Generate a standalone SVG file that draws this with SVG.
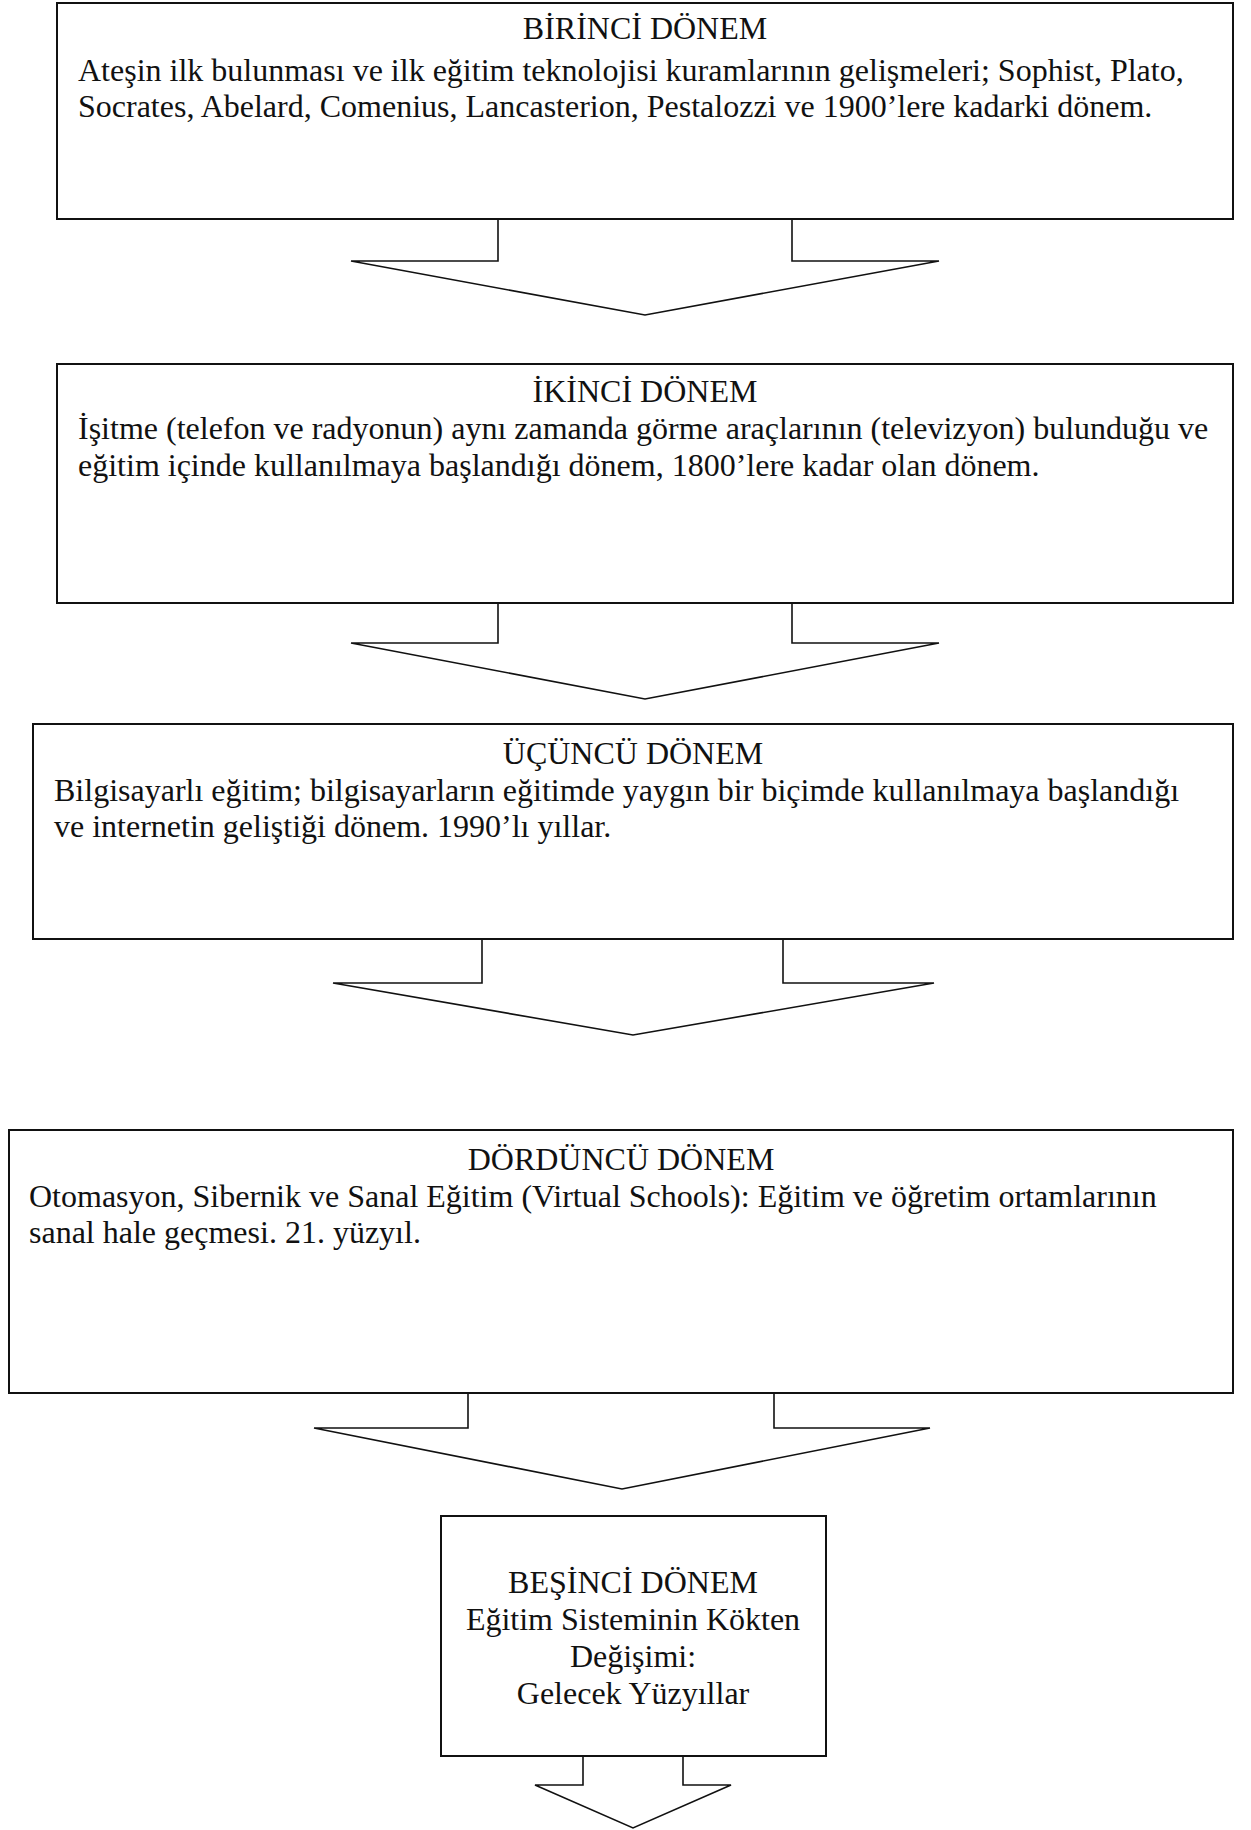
<svg xmlns="http://www.w3.org/2000/svg" width="1251" height="1830" viewBox="0 0 1251 1830">
  <style>
    .box { fill: #ffffff; stroke: #111111; stroke-width: 2; }
    .arrow { fill: #ffffff; stroke: #111111; stroke-width: 1.6; stroke-linejoin: miter; }
    text { font-family: "Liberation Serif", "Times New Roman", serif; font-size: 32px; fill: #111111; }
    .title { text-anchor: middle; }
    .center { text-anchor: middle; }
  </style>
  <rect width="1251" height="1830" fill="#ffffff"/>

  <!-- block arrows between the periods -->
  <g id="connectors">
    <polygon class="arrow" points="498,219 792,219 792,261 939,261 645,315 351,261 498,261"/>
    <polygon class="arrow" points="498,603 792,603 792,643 939,643 645,699 351,643 498,643"/>
    <polygon class="arrow" points="482,939 783,939 783,983 934,983 633,1035 333,983 482,983"/>
    <polygon class="arrow" points="468,1393 774,1393 774,1428 930,1428 622,1489 314,1428 468,1428"/>
    <polygon class="arrow" points="583,1756 683,1756 683,1785 731,1785 633,1828 535,1785 583,1785"/>
  </g>

  <g id="period1">
    <rect class="box" x="57" y="3" width="1176" height="216"/>
    <text class="title" x="645" y="39">BİRİNCİ DÖNEM</text>
    <text x="78" y="81">Ateşin ilk bulunması ve ilk eğitim teknolojisi kuramlarının gelişmeleri; Sophist, Plato,</text>
    <text x="78" y="117">Socrates, Abelard, Comenius, Lancasterion, Pestalozzi ve 1900’lere kadarki dönem.</text>
  </g>

  <g id="period2">
    <rect class="box" x="57" y="364" width="1176" height="239"/>
    <text class="title" x="645" y="402">İKİNCİ DÖNEM</text>
    <text x="78" y="439">İşitme (telefon ve radyonun) aynı zamanda görme araçlarının (televizyon) bulunduğu ve</text>
    <text x="78" y="476">eğitim içinde kullanılmaya başlandığı dönem, 1800’lere kadar olan dönem.</text>
  </g>

  <g id="period3">
    <rect class="box" x="33" y="724" width="1200" height="215"/>
    <text class="title" x="633" y="764">ÜÇÜNCÜ DÖNEM</text>
    <text x="54" y="801">Bilgisayarlı eğitim; bilgisayarların eğitimde yaygın bir biçimde kullanılmaya başlandığı</text>
    <text x="54" y="837">ve internetin geliştiği dönem. 1990’lı yıllar.</text>
  </g>

  <g id="period4">
    <rect class="box" x="9" y="1130" width="1224" height="263"/>
    <text class="title" x="621" y="1170">DÖRDÜNCÜ DÖNEM</text>
    <text x="29" y="1207">Otomasyon, Sibernik ve Sanal Eğitim (Virtual Schools): Eğitim ve öğretim ortamlarının</text>
    <text x="29" y="1243">sanal hale geçmesi. 21. yüzyıl.</text>
  </g>

  <g id="period5">
    <rect class="box" x="441" y="1516" width="385" height="240"/>
    <text class="center" x="633" y="1593">BEŞİNCİ DÖNEM</text>
    <text class="center" x="633" y="1630">Eğitim Sisteminin Kökten</text>
    <text class="center" x="633" y="1667">Değişimi:</text>
    <text class="center" x="633" y="1704">Gelecek Yüzyıllar</text>
  </g>
</svg>
